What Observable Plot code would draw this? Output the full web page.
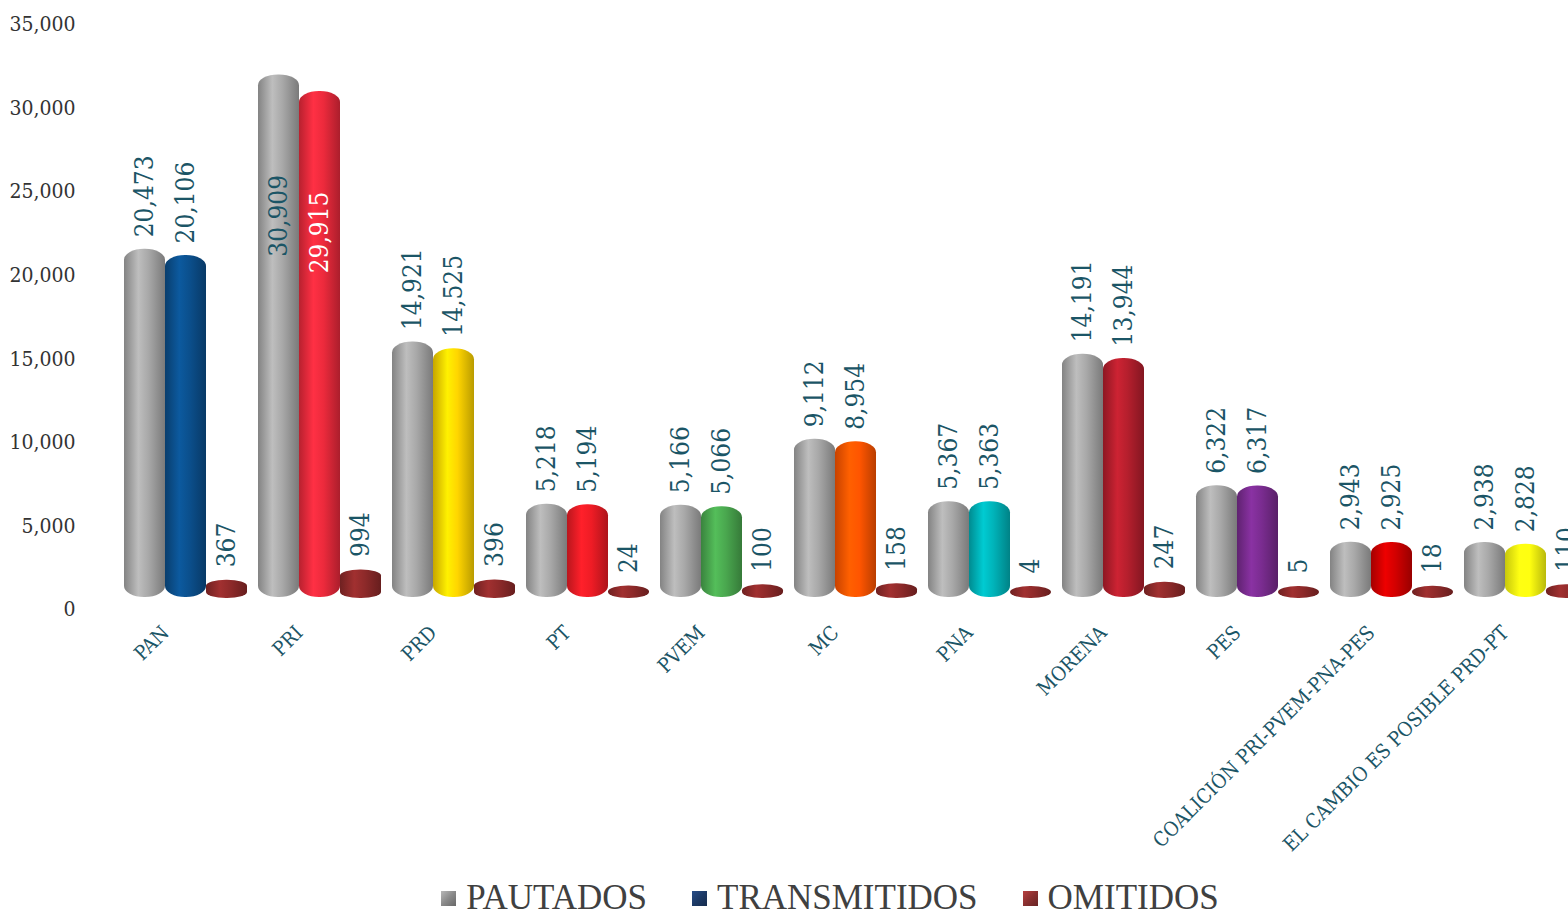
<!DOCTYPE html>
<html>
<head>
<meta charset="utf-8">
<script src="https://cdn.jsdelivr.net/npm/d3@7"></script>
<script src="https://cdn.jsdelivr.net/npm/@observablehq/plot@0.6"></script>
<style>
  html, body { margin: 0; padding: 0; background: #fff; }
  #wrap { width: 1568px; height: 917px; overflow: hidden; position: relative; }
  #chart { height: 868px; }
  #chart svg { max-width: none !important; display: block; }
  #legend { display: flex; justify-content: center; align-items: center; padding-left: 92px; padding-top: 13px; height: 34px;
            font-family: "Liberation Serif", serif; font-size: 35px; color: #404040; line-height: 34px; }
  .item { display: flex; align-items: center; margin-right: 45px; }
  .item:last-child { margin-right: 0; }
  .sw { width: 15px; height: 15px; margin-right: 10px; }
</style>
</head>
<body>
<div id="wrap"><div id="chart"></div><div id="legend"></div></div>
<script>
const categories = ["PAN","PRI","PRD","PT","PVEM","MC","PNA","MORENA","PES","COALICIÓN PRI-PVEM-PNA-PES","EL CAMBIO ES POSIBLE PRD-PT"];
const pautados     = [20473,30909,14921,5218,5166,9112,5367,14191,6322,2943,2938];
const transmitidos = [20106,29915,14525,5194,5066,8954,5363,13944,6317,2925,2828];
const omitidos     = [367,994,396,24,100,158,4,247,5,18,110];
const series = ["PAUTADOS","TRANSMITIDOS","OMITIDOS"];
const partyColors = ["#0b4f8c","#ec2a3c","#ffd500","#ee1c25","#4aa84f","#ff5500","#00b3b9","#b51f2d","#7a2c90","#d20000","#ffff10"];
const grayColor = "#a8a8a8";
const omitColor = "#8e2a2a";
const legendColors = ["#8a8a8a","#1d3a66","#8a3030"];
const yTicks = [0,5000,10000,15000,20000,25000,30000,35000];
const teal = "#1b5566";

const rows = [];
categories.forEach((c, i) => {
  rows.push({category: c, series: series[0], value: pautados[i], grad: "url(#g-gray)"});
  rows.push({category: c, series: series[1], value: transmitidos[i], grad: `url(#g-t${i})`});
  rows.push({category: c, series: series[2], value: omitidos[i], grad: "url(#g-omit)"});
});
const tall = rows.filter(d => d.series !== "OMITIDOS");
const omit = rows.filter(d => d.series === "OMITIDOS");
const insideLimit = 28000;
const fmt = d3.format(",");
const font = "'DejaVu Serif Condensed','DejaVu Serif',serif";

const chart = Plot.plot({
  width: 1593, height: 868,
  marginLeft: 116, marginRight: 0, marginTop: 24, marginBottom: 259,
  style: {fontFamily: font, background: "white", maxWidth: "none"},
  fx: {domain: categories, paddingInner: 0.075, paddingOuter: 0.04, label: null},
  x: {domain: series, padding: 0, axis: null},
  y: {domain: [0, 35000], label: null},
  color: {type: "identity"},
  marks: [
    Plot.axisY(yTicks, {tickSize: 0, tickPadding: 41, dx: -7, tickFormat: fmt, fontSize: 21, fill: "#333", label: null}),
    Plot.axisFx({anchor: "bottom", tickSize: 0, tickPadding: 0, tickRotate: -45, textAnchor: "end", dx: -20, dy: 20, fontSize: 20, fill: teal, label: null}),
    Plot.barY(tall, {fx: "category", x: "series", y: "value", fill: "grad", rx: 20, ry: 11, insetTop: -2, insetBottom: -4, dy: -16}),
    Plot.barY(omit, {fx: "category", x: "series", y: "value", fill: "grad", rx: 20, ry: 6, insetTop: -6, insetBottom: -6, dy: -17}),
    Plot.text(tall.filter(d => d.value <= insideLimit), {fx: "category", x: "series", y: "value", text: d => fmt(d.value), rotate: -90, textAnchor: "start", dy: -30, fill: teal, fontSize: 26}),
    Plot.text(tall.filter(d => d.value > insideLimit), {fx: "category", x: "series", y: "value", text: d => fmt(d.value), rotate: -90, textAnchor: "end", dy: 82, fill: d => d.series === "TRANSMITIDOS" ? "white" : teal, fontSize: 26}),
    Plot.text(omit, {fx: "category", x: "series", y: "value", text: d => fmt(d.value), rotate: -90, textAnchor: "start", dy: -36, fill: teal, fontSize: 26})
  ]
});

// cylinder-like shading gradients
const svg = d3.select(chart.tagName.toLowerCase() === "svg" ? chart : chart.querySelector("svg"));
const defs = svg.insert("defs", ":first-child");
function addGrad(id, base) {
  const c = d3.color(base);
  const g = defs.append("linearGradient").attr("id", id).attr("x1", 0).attr("x2", 1).attr("y1", 0).attr("y2", 0);
  g.append("stop").attr("offset", "0%").attr("stop-color", c.darker(0.7).formatHex());
  g.append("stop").attr("offset", "35%").attr("stop-color", c.brighter(0.35).formatHex());
  g.append("stop").attr("offset", "60%").attr("stop-color", c.formatHex());
  g.append("stop").attr("offset", "100%").attr("stop-color", c.darker(0.9).formatHex());
}
addGrad("g-gray", grayColor);
addGrad("g-omit", omitColor);
partyColors.forEach((c, i) => addGrad(`g-t${i}`, c));
svg.selectAll("text").style("font-stretch", "condensed");

document.getElementById("chart").appendChild(chart);

const legend = d3.select("#legend");
series.forEach((s, i) => {
  const it = legend.append("div").attr("class", "item");
  it.append("div").attr("class", "sw")
    .style("background", `linear-gradient(135deg, ${d3.color(legendColors[i]).brighter(0.8)} 0%, ${legendColors[i]} 50%, ${d3.color(legendColors[i]).darker(0.8)} 100%)`);
  it.append("span").text(s);
});
</script>
</body>
</html>
